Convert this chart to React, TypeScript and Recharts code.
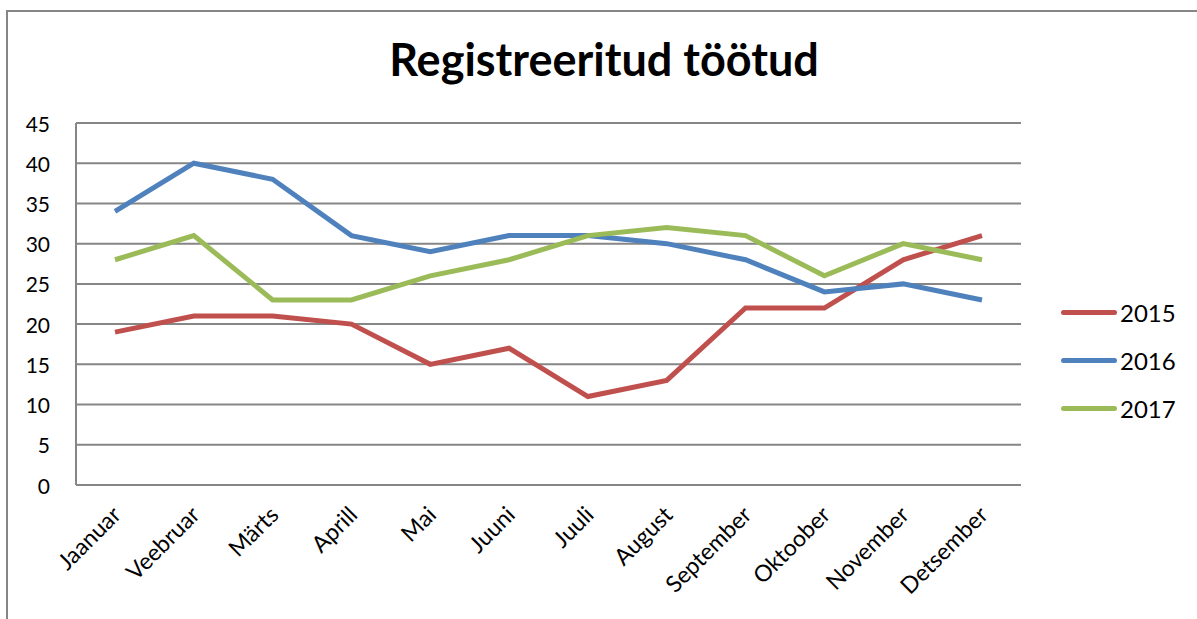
import { LineChart, Line, XAxis, YAxis, CartesianGrid, Legend } from 'recharts'

const months = ['Jaanuar', 'Veebruar', 'Märts', 'Aprill', 'Mai', 'Juuni', 'Juuli', 'August', 'September', 'Oktoober', 'November', 'Detsember']
const y2015 = [19, 21, 21, 20, 15, 17, 11, 13, 22, 22, 28, 31]
const y2016 = [34, 40, 38, 31, 29, 31, 31, 30, 28, 24, 25, 23]
const y2017 = [28, 31, 23, 23, 26, 28, 31, 32, 31, 26, 30, 28]
const yTicks = [0, 5, 10, 15, 20, 25, 30, 35, 40, 45]

const series = [
    { key: 'y2015', name: '2015', color: '#C0504D' },
    { key: 'y2016', name: '2016', color: '#4F81BD' },
    { key: 'y2017', name: '2017', color: '#9BBB59' },
]

const data = months.map((m, i) => ({ month: m, y2015: y2015[i], y2016: y2016[i], y2017: y2017[i] }))

const FONT = 'Lato, "Open Sans", sans-serif'
const GRID = '#868686'

function XTick({ x, y, payload }: any) {
    const tx = x + 1
    const ty = y + 17
    return (
        <text x={tx} y={ty} transform={`rotate(-45, ${tx}, ${ty})`}
            textAnchor="end" dominantBaseline="central" fontSize={23} fontFamily={FONT} fill="#000">
            {payload.value}
        </text>
    )
}

function YTick({ x, y, payload }: any) {
    return (
        <text x={x - 18} y={y} textAnchor="end" dominantBaseline="central" fontSize={21} fontFamily={FONT} fill="#000">
            {payload.value}
        </text>
    )
}

function LegendBox() {
    return (
        <div style={{ fontFamily: FONT, fontSize: 24 }}>
            {series.map(s => (
                <div key={s.key} style={{ display: 'flex', alignItems: 'center', height: 48 }}>
                    <div style={{ width: 56, height: 5, borderRadius: 3, background: s.color, marginRight: 3 }} />
                    <span>{s.name}</span>
                </div>
            ))}
        </div>
    )
}

export default function App() {
    return (
        <div style={{ position: 'absolute', left: 0, top: 0, width: 1197, height: 619, overflow: 'hidden', background: '#fff' }}>
            <div style={{ position: 'absolute', left: 6, top: 10, width: 1300, height: 700, border: `2px solid ${GRID}` }} />
            <div style={{ position: 'absolute', left: 0, top: 32, width: 1208, textAlign: 'center', fontFamily: FONT, fontWeight: 'bold', fontSize: 45 }}>
                Registreeritud töötud
            </div>
            <div style={{ position: 'absolute', left: 0, top: 0 }}>
                <LineChart width={1197} height={619} data={data} margin={{ top: 123, right: 176, left: 0, bottom: 0 }}>
                    <CartesianGrid vertical={false} stroke={GRID} strokeWidth={2} />
                    <XAxis dataKey="month" height={134} axisLine={{ stroke: GRID, strokeWidth: 2 }} tickLine={false}
                        tick={<XTick />} interval={0} padding={{ left: 39, right: 39 }} />
                    <YAxis width={76} domain={[0, 45]} ticks={yTicks} axisLine={{ stroke: GRID, strokeWidth: 2 }}
                        tickLine={false} tick={<YTick />} />
                    <Legend layout="horizontal" align="center" verticalAlign="middle" content={<LegendBox />}
                        wrapperStyle={{ position: 'absolute', left: 1061, top: 288, width: 130 }} />
                    {series.map(s => (
                        <Line key={s.key} type="linear" dataKey={s.key} name={s.name} stroke={s.color} strokeWidth={5}
                            dot={false} isAnimationActive={false} />
                    ))}
                </LineChart>
            </div>
        </div>
    )
}
